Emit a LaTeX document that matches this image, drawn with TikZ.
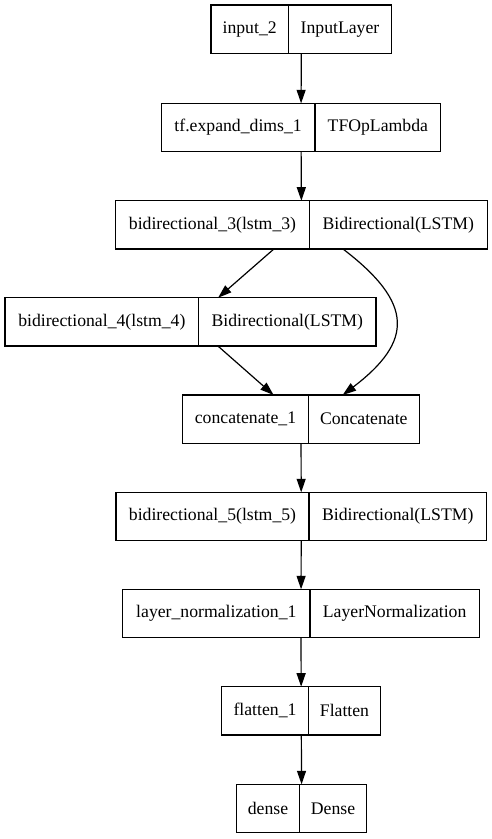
\documentclass[tikz,border=0pt]{standalone}
\usepackage{fontspec}
\setmainfont{Liberation Serif}
\usetikzlibrary{arrows.meta,fit}
\begin{document}
\begin{tikzpicture}[x=1pt,y=-1pt,
  cell/.style={draw, line width=1.2pt, minimum height=48.3pt, inner sep=0pt, outer sep=0pt,
    anchor=north west, font=\fontsize{17.7}{20}\selectfont},
  rec/.style={draw=none, inner sep=0pt, outer sep=0pt},
  edge/.style={line width=1.2pt, -{Triangle[length=13.5pt,width=9pt]}}]
\useasboundingbox[fill=white] (0,0) rectangle (492,839);
% input
\node[cell, minimum width=77.3pt] (inL) at (211,5) {input\_2};
\node[cell, minimum width=103.4pt] (inR) at (inL.north east) {InputLayer};
\node[rec, fit=(inL)(inR)] (in) {};
% tf
\node[cell, minimum width=153.7pt] (tfL) at (161.3,103.3) {tf.expand\_dims\_1};
\node[cell, minimum width=125.7pt] (tfR) at (tfL.north east) {TFOpLambda};
\node[rec, fit=(tfL)(tfR)] (tf) {};
% b3
\node[cell, minimum width=193.6pt] (b3L) at (115.7,200.7) {bidirectional\_3(lstm\_3)};
\node[cell, minimum width=178pt] (b3R) at (b3L.north east) {Bidirectional(LSTM)};
\node[rec, fit=(b3L)(b3R)] (b3) {};
% b4
\node[cell, minimum width=193.7pt] (b4L) at (5,297.7) {bidirectional\_4(lstm\_4)};
\node[cell, minimum width=177.3pt] (b4R) at (b4L.north east) {Bidirectional(LSTM)};
\node[rec, fit=(b4L)(b4R)] (b4) {};
% concat
\node[cell, minimum width=125.6pt] (ccL) at (182.7,395) {concatenate\_1};
\node[cell, minimum width=111pt] (ccR) at (ccL.north east) {Concatenate};
\node[rec, fit=(ccL)(ccR)] (cc) {};
% b5
\node[cell, minimum width=193pt] (b5L) at (116,492.3) {bidirectional\_5(lstm\_5)};
\node[cell, minimum width=177.5pt] (b5R) at (b5L.north east) {Bidirectional(LSTM)};
\node[rec, fit=(b5L)(b5R)] (b5) {};
% layer norm
\node[cell, minimum width=187.3pt] (lnL) at (122.7,589.3) {layer\_normalization\_1};
\node[cell, minimum width=169.3pt] (lnR) at (lnL.north east) {LayerNormalization};
\node[rec, fit=(lnL)(lnR)] (ln) {};
% flatten
\node[cell, minimum width=86.6pt] (flL) at (221.7,686.7) {flatten\_1};
\node[cell, minimum width=72.4pt] (flR) at (flL.north east) {Flatten};
\node[rec, fit=(flL)(flR)] (fl) {};
% dense
\node[cell, minimum width=62.6pt] (dnL) at (236.7,784.3) {dense};
\node[cell, minimum width=67.4pt] (dnR) at (dnL.north east) {Dense};
\node[rec, fit=(dnL)(dnR)] (dn) {};
% edges
\draw[edge] (in) -- (tf);
\draw[edge] (tf) -- (b3);
\draw[edge] (b3) -- (b4);
\draw[edge] (b4) -- (cc);
\draw[edge] ([xshift=41.5pt]b3.south) .. controls (413.7,303) and (413.7,341) .. ([xshift=41.7pt]cc.north);
\draw[edge] (cc) -- (b5);
\draw[edge] (b5) -- (ln);
\draw[edge] (ln) -- (fl);
\draw[edge] (fl) -- (dn);
\end{tikzpicture}
\end{document}
